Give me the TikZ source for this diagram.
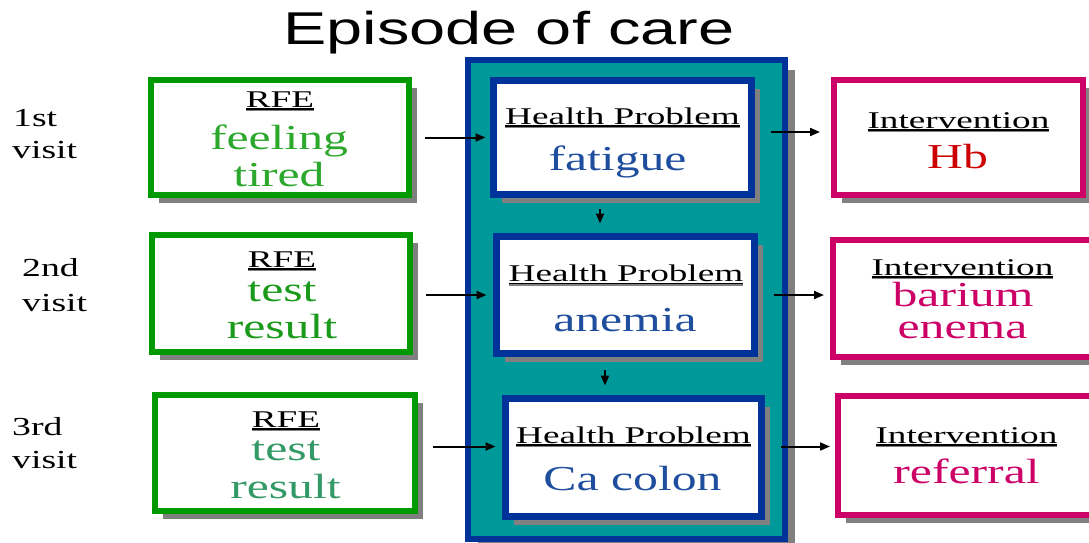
\documentclass[tikz,border=0pt]{standalone}
\usepackage{fontspec}
\setmainfont{Liberation Serif}
\newfontfamily\lblfont[FakeStretch=1.55]{Liberation Serif}
\newfontfamily\bigfont[FakeStretch=1.42]{Liberation Serif}
\newfontfamily\ttlfont[FakeStretch=1.41]{Liberation Sans}
\newfontfamily\visfont[FakeStretch=1.45]{Liberation Serif}
\usetikzlibrary{arrows.meta,shadows}
\definecolor{tealbg}{RGB}{0,153,153}
\definecolor{navy}{RGB}{0,51,153}
\definecolor{grnbox}{RGB}{0,153,0}
\definecolor{magbox}{RGB}{204,0,102}
\definecolor{hpblue}{RGB}{31,78,158}
\definecolor{hbred}{RGB}{204,0,0}
\definecolor{txtgA}{RGB}{44,168,44}
\definecolor{txtgB}{RGB}{26,154,26}
\definecolor{txtgC}{RGB}{51,153,102}
\definecolor{shadowgray}{RGB}{128,128,128}
\newcommand\ulx[1]{\setbox0=\hbox{#1}\rlap{\color{black}\rule[-2.5pt]{\wd0}{1.5pt}}\rlap{\color{shadowgray}\rule[-4pt]{\wd0}{1.5pt}}\box0}
\tikzset{
  boxshadow/.style={drop shadow={shadow xshift=#1, shadow yshift=-#1, fill=shadowgray, opacity=1}},
  rfebox/.style={draw=grnbox, fill=white, line width=6pt, inner sep=0pt, boxshadow=8pt},
  hpbox/.style={draw=navy, fill=white, line width=7pt, inner sep=0pt, boxshadow=8pt},
  intbox/.style={draw=magbox, fill=white, line width=6pt, inner sep=0pt, boxshadow=8pt},
  episode/.style={draw=navy, fill=tealbg, line width=6pt, inner sep=0pt, drop shadow={shadow xshift=10pt, shadow yshift=-10pt, fill=shadowgray, opacity=1}},
  lbl/.style={anchor=base, inner sep=0pt, font=\lblfont\fontsize{24}{28}\selectfont},
  bigt/.style={anchor=base, inner sep=0pt, font=\bigfont\fontsize{35}{32}\selectfont},
  vis/.style={anchor=base west, inner sep=0pt, font=\visfont\fontsize{26}{30}\selectfont},
  ttl/.style={anchor=base, inner sep=0pt, font=\ttlfont\fontsize{46}{50}\selectfont},
  arr/.style={line width=2pt, -{Triangle[length=10pt,width=8pt]}}
}
\begin{document}
\begin{tikzpicture}[x=1pt,y=-1pt]
\useasboundingbox (0,0) rectangle (1089,542);
\clip (0,0) rectangle (1089,542);
% title
\node[ttl] (title) at (509,44) {Episode of care};
% episode container
\node[episode, minimum width=317pt, minimum height=479pt] (ep) at (626.5,299.5) {};
% RFE boxes
\node[rfebox, minimum width=258pt, minimum height=115pt] (rfe1) at (280,137.5) {};
\node[rfebox, minimum width=258pt, minimum height=117pt] (rfe2) at (281,293.5) {};
\node[rfebox, minimum width=260pt, minimum height=116pt] (rfe3) at (285,453) {};
% Health problem boxes
\node[hpbox, minimum width=258pt, minimum height=114pt] (hp1) at (622.5,137.5) {};
\node[hpbox, minimum width=258pt, minimum height=117pt] (hp2) at (625.5,295) {};
\node[hpbox, minimum width=256pt, minimum height=118pt] (hp3) at (633.5,457.5) {};
% Intervention boxes
\node[intbox, minimum width=249pt, minimum height=115pt] (int1) at (958.5,137.5) {};
\node[intbox, minimum width=259pt, minimum height=117pt] (int2) at (962.5,298.5) {};
\node[intbox, minimum width=254pt, minimum height=119pt] (int3) at (965,455.5) {};
% visit labels
\node[vis] (v1a) at (13,126) {1st};
\node[vis] (v1b) at (12,158) {visit};
\node[vis] (v2a) at (22,276) {2nd};
\node[vis] (v2b) at (22,311) {visit};
\node[vis] (v3a) at (12,435) {3rd};
\node[vis] (v3b) at (12,468) {visit};
% RFE texts
\node[lbl] (r1l) at (280,107) {\ulx{RFE}};
\node[bigt, text=txtgA] (r1a) at (279,149) {feeling};
\node[bigt, text=txtgA] (r1b) at (279,186) {tired};
\node[lbl] (r2l) at (282,267) {\ulx{RFE}};
\node[bigt, text=txtgB] (r2a) at (282,301) {test};
\node[bigt, text=txtgB] (r2b) at (282,338) {result};
\node[lbl] (r3l) at (286,427) {\ulx{RFE}};
\node[bigt, text=txtgC] (r3a) at (286,460) {test};
\node[bigt, text=txtgC] (r3b) at (285.5,498) {result};
% HP texts
\node[lbl] (h1l) at (622.5,124) {\ulx{Health Problem}};
\node[bigt, text=hpblue] (h1a) at (617.5,170) {fatigue};
\node[lbl] (h2l) at (626,281.5) {\ulx{Health Problem}};
\node[bigt, text=hpblue] (h2a) at (625,331.5) {anemia};
\node[lbl] (h3l) at (633.5,443) {\ulx{Health Problem}};
\node[bigt, text=hpblue] (h3a) at (632.5,490) {Ca colon};
% Intervention texts
\node[lbl] (i1l) at (958.5,128) {\ulx{Intervention}};
\node[bigt, text=hbred] (i1a) at (957.5,168) {Hb};
\node[lbl] (i2l) at (962.5,275) {\ulx{Intervention}};
\node[bigt, text=magbox] (i2a) at (963,306.5) {barium};
\node[bigt, text=magbox] (i2b) at (962.5,338.5) {enema};
\node[lbl] (i3l) at (966.5,443) {\ulx{Intervention}};
\node[bigt, text=magbox] (i3a) at (966.5,483) {referral};
% helper coordinates
\coordinate (c1) at ([yshift=5.5pt]hp1.east);
\coordinate (c3) at ([yshift=11pt]hp3.west);
\coordinate (d1) at ([xshift=-22.5pt]hp1.south);
\coordinate (d2) at ([xshift=-20.5pt]hp2.south);
% horizontal connectors
\draw[arr, shorten <=13pt, shorten >=4.5pt] (rfe1.east) -- (rfe1.east -| hp1.west);
\draw[arr, shorten <=13pt, shorten >=6.5pt] (rfe2.east |- hp2.west) -- (hp2.west);
\draw[arr, shorten <=15pt, shorten >=6.5pt] (rfe3.east |- c3) -- (c3);
\draw[arr, shorten <=15.5pt, shorten >=11pt] (c1) -- (c1 -| int1.west);
\draw[arr, shorten <=15.5pt, shorten >=6pt] (hp2.east) -- (hp2.east -| int2.west);
\draw[arr, shorten <=15.5pt, shorten >=5pt] (c3 -| hp3.east) -- (c3 -| int3.west);
% vertical connectors
\draw[arr, shorten <=11pt, shorten >=9.5pt] (d1) -- (d1 |- hp2.north);
\draw[arr, shorten <=13pt, shorten >=9.5pt] (d2) -- (d2 |- hp3.north);
\end{tikzpicture}
\end{document}
